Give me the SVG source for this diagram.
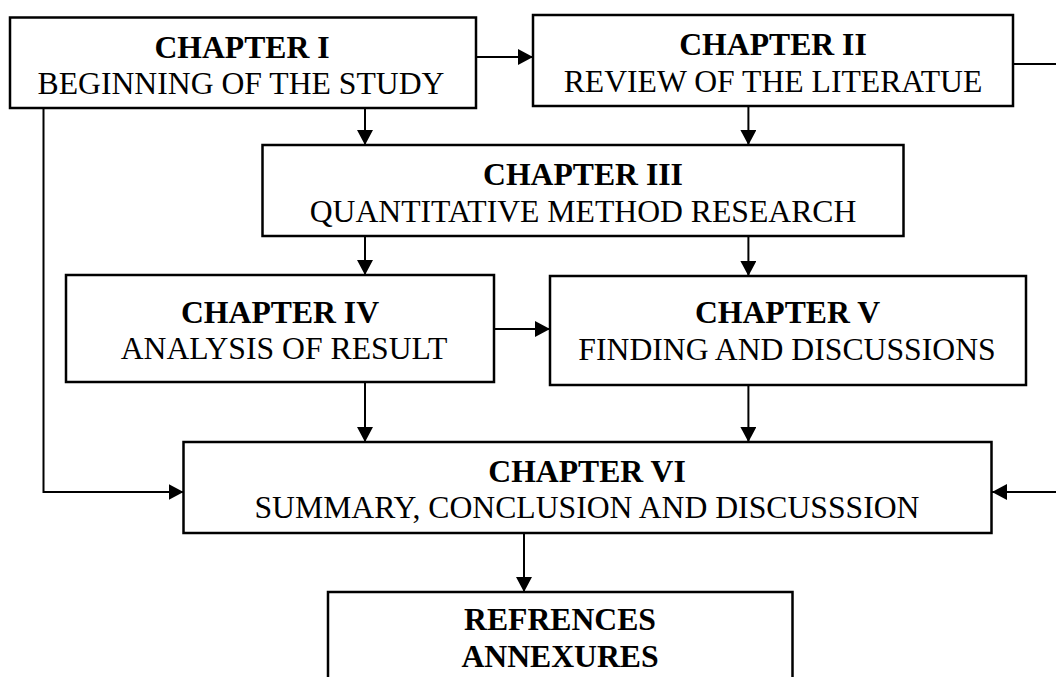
<svg xmlns="http://www.w3.org/2000/svg" width="1056" height="677" viewBox="0 0 1056 677">
  <style>
    .box { fill: #ffffff; stroke: #000000; stroke-width: 2.5; }
    .t { font-family: "Liberation Serif", "Times New Roman", serif; font-size: 31.7px; fill: #000000; text-anchor: middle; }
    .b { font-weight: bold; }
    .c { fill: none; stroke: #000000; stroke-width: 2; }
  </style>
  <defs>
    <marker id="arr" markerUnits="userSpaceOnUse" markerWidth="16" markerHeight="16" refX="15" refY="8" orient="auto">
      <path d="M0,0 L15,8 L0,16 z" fill="#000000"/>
    </marker>
  </defs>
  <rect width="1056" height="677" fill="#ffffff"/>

  <g id="connectors">
    <line class="c" x1="476" y1="57" x2="533" y2="57" marker-end="url(#arr)"/>
    <line class="c" x1="1013" y1="64" x2="1056" y2="64"/>
    <line class="c" x1="1056" y1="492" x2="992" y2="492" marker-end="url(#arr)"/>
    <polyline class="c" points="43.5,108 43.5,492 183.5,492" marker-end="url(#arr)"/>
    <line class="c" x1="365" y1="108" x2="365" y2="145" marker-end="url(#arr)"/>
    <line class="c" x1="748.4" y1="106" x2="748.4" y2="145" marker-end="url(#arr)"/>
    <line class="c" x1="365" y1="236" x2="365" y2="275" marker-end="url(#arr)"/>
    <line class="c" x1="748.4" y1="236" x2="748.4" y2="276" marker-end="url(#arr)"/>
    <line class="c" x1="494" y1="329" x2="550" y2="329" marker-end="url(#arr)"/>
    <line class="c" x1="365" y1="382" x2="365" y2="442" marker-end="url(#arr)"/>
    <line class="c" x1="748.4" y1="385" x2="748.4" y2="442" marker-end="url(#arr)"/>
    <line class="c" x1="524" y1="533" x2="524" y2="592" marker-end="url(#arr)"/>
  </g>

  <g id="ch1">
    <rect class="box" x="10" y="17.5" width="466" height="90.5"/>
    <text class="t b" x="242" y="57.5">CHAPTER I</text>
    <text class="t" x="241" y="94.3">BEGINNING OF THE STUDY</text>
  </g>
  <g id="ch2">
    <rect class="box" x="533" y="15" width="480" height="91"/>
    <text class="t b" x="773" y="55">CHAPTER II</text>
    <text class="t" x="773" y="91.7">REVIEW OF THE LITERATUE</text>
  </g>
  <g id="ch3">
    <rect class="box" x="262.5" y="145" width="641" height="91"/>
    <text class="t b" x="583" y="185">CHAPTER III</text>
    <text class="t" x="583" y="222">QUANTITATIVE METHOD RESEARCH</text>
  </g>
  <g id="ch4">
    <rect class="box" x="66" y="275" width="428" height="107"/>
    <text class="t b" x="280" y="322.7">CHAPTER IV</text>
    <text class="t" x="284" y="359.3">ANALYSIS OF RESULT</text>
  </g>
  <g id="ch5">
    <rect class="box" x="550" y="276" width="476" height="109"/>
    <text class="t b" x="787.5" y="323">CHAPTER V</text>
    <text class="t" x="787" y="360">FINDING AND DISCUSSIONS</text>
  </g>
  <g id="ch6">
    <rect class="box" x="183.5" y="442" width="808" height="91"/>
    <text class="t b" x="587" y="482.3">CHAPTER VI</text>
    <text class="t" x="587" y="518.3">SUMMARY, CONCLUSION AND DISCUSSSION</text>
  </g>
  <g id="refs">
    <rect class="box" x="328" y="592" width="464.5" height="100"/>
    <text class="t b" x="560" y="630">REFRENCES</text>
    <text class="t b" x="560" y="666.7">ANNEXURES</text>
  </g>
</svg>
